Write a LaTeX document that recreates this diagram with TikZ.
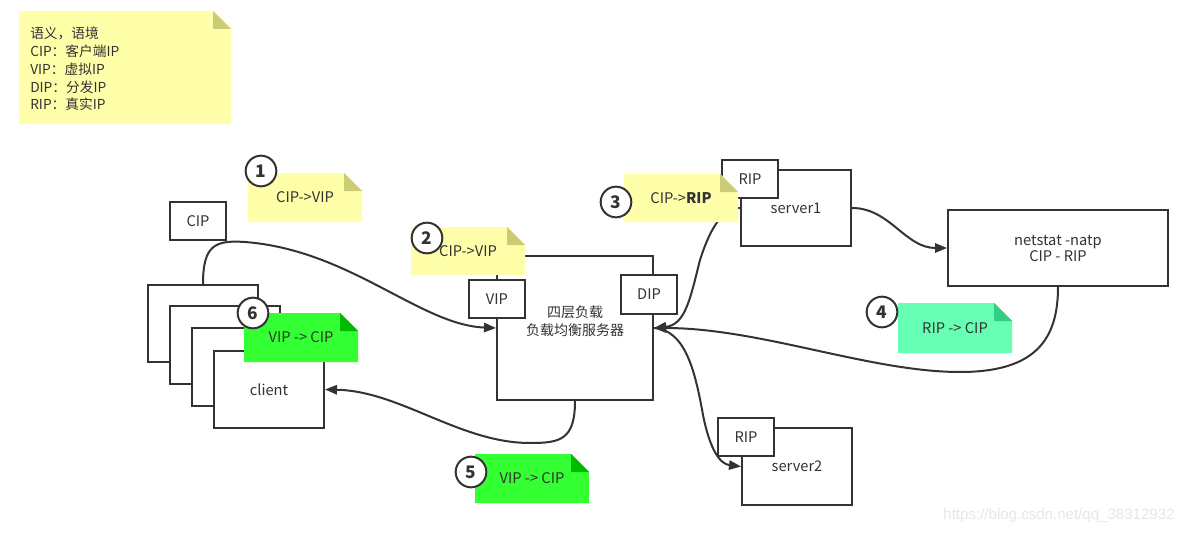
\documentclass[tikz,border=0pt]{standalone}
\usepackage{fontspec}
\setmainfont{Noto Sans CJK SC}
\newfontfamily\wmfont{Liberation Sans}
\usetikzlibrary{arrows.meta,calc}
\definecolor{ink}{HTML}{333333}
\definecolor{noteyellow}{HTML}{FFFFAA}
\definecolor{foldyellow}{HTML}{CCCC77}
\definecolor{notegreen}{HTML}{33FF33}
\definecolor{foldgreen}{HTML}{00BB00}
\definecolor{notemint}{HTML}{66FFB3}
\definecolor{foldmint}{HTML}{33CC80}
\definecolor{wmgray}{HTML}{E6E6E6}
\newcommand{\stickynote}[8]{%
  \fill[#6] (#2,#3) -- ({#4-18},#3) -- (#4,{#3+18}) -- (#4,#5) -- (#2,#5) -- cycle;
  \fill[#7] ({#4-18},#3) -- ({#4-18},{#3+18}) -- (#4,{#3+18}) -- cycle;
  \node[notetext] (#1) at ({(#2+#4)/2},{(#3+#5)/2}) {#8};
}
% name, x1, y1, x2, y2, [options], text
\newcommand{\boxnode}[7][]{%
  \node[box, minimum width={(#4-#2)*0.75pt}, minimum height={(#5-#3)*0.75pt}, #1]
    (#6) at ({(#2+#4)/2},{(#3+#5)/2}) {#7};
}
\begin{document}
\begin{tikzpicture}[x=0.75pt,y=-0.75pt,
  box/.style={draw=ink, line width=1.5pt, fill=white, inner sep=0pt, text=ink,
    font=\fontsize{11}{12}\selectfont},
  notetext/.style={text=ink, inner sep=0pt, font=\fontsize{11}{13.5}\selectfont},
  conn/.style={draw=ink, line width=1.5pt, -{Triangle[length=9pt,width=7pt]}},
  numcircle/.style={circle, draw=ink, line width=1.5pt, fill=white, minimum size=23pt,
    inner sep=0pt, text=ink, font=\bfseries\fontsize{13}{13}\selectfont}]
\useasboundingbox (0,0) rectangle (1190,535);

% legend
\fill[noteyellow] (19,11) -- (213,11) -- (231,29) -- (231,124) -- (19,124) -- cycle;
\fill[foldyellow] (213,11) -- (213,29) -- (231,29) -- cycle;
\node[notetext, anchor=north west, align=left, font=\fontsize{10.3}{13.3}\selectfont] (legend) at (30,27)
  {语义，语境\\CIP：客户端IP\\VIP：虚拟IP\\DIP：分发IP\\RIP：真实IP};

% client stack
\boxnode{148}{285}{258}{362}{stack1}{}
\boxnode{170}{306}{280}{384}{stack2}{}
\boxnode{192}{328}{302}{406}{stack3}{}
\boxnode{214}{351}{324}{428}{client}{client}
\boxnode{170}{202}{226}{240}{cip}{CIP}

% load balancer
\boxnode[label={[anchor=north, yshift=-38pt, align=center, text=ink, inner sep=0pt,
    font=\fontsize{10.5}{13.5}\selectfont]north:四层负载\\负载均衡服务器}]{497}{256}{653}{400}{main}{}
\boxnode{469}{280}{525}{318}{vip}{VIP}
\boxnode{621}{275}{677}{314}{dip}{DIP}

% servers
\boxnode{741}{170}{851}{246}{server1}{server1}
\boxnode{722}{160}{778}{198}{rip1}{RIP}
\boxnode{742}{428}{852}{505}{server2}{server2}
\boxnode{718}{418}{774}{456}{rip2}{RIP}
\boxnode[align=center, font=\fontsize{11}{12}\selectfont]{948}{210}{1168}{286}{netstat}{netstat -natp\\CIP - RIP}

% connectors
\draw[conn] (stack1.north) .. controls (203,245) and (215,240) .. (245,242)
  .. controls (350,250) and (420,325) .. (main.west);
\draw[conn] (server1.west) .. controls (720,208) and (708,235) .. (700,260)
  .. controls (690,300) and (685,325) .. (main.east);
\draw[conn] (main.east) .. controls (685,330) and (695,370) .. (703,415)
  .. controls (710,450) and (720,464) .. (server2.west);
\draw[conn] (server1.east) .. controls (890,208) and (905,248) .. (netstat.west);
\draw[conn] (netstat.south) .. controls (1058,340) and (1035,372) .. (960,372)
  .. controls (870,372) and (760,328) .. (main.east);
\draw[conn] (main.south) .. controls (575,440) and (560,443) .. (530,443)
  .. controls (460,443) and (400,391) .. (client.east);

% notes
\stickynote{n1}{248}{173}{362}{222}{noteyellow}{foldyellow}{CIP->VIP}
\stickynote{n2}{411}{227}{525}{275}{noteyellow}{foldyellow}{CIP->VIP}
\stickynote{n3}{624}{174}{738}{222}{noteyellow}{foldyellow}{CIP->\textbf{RIP}}
\stickynote{n4}{898}{303}{1012}{353}{notemint}{foldmint}{RIP -> CIP}
\stickynote{n5}{475}{454}{589}{503}{notegreen}{foldgreen}{VIP -> CIP}
\stickynote{n6}{244}{313}{358}{362}{notegreen}{foldgreen}{VIP -> CIP}

% step numbers
\node[numcircle] (c1) at (261,171) {1};
\node[numcircle] (c2) at (427,238) {2};
\node[numcircle] (c3) at (616,202) {3};
\node[numcircle] (c4) at (882,312) {4};
\node[numcircle] (c5) at (471,472) {5};
\node[numcircle] (c6) at (253,313) {6};

% watermark
\node[text=wmgray, inner sep=0pt, font=\wmfont\fontsize{11.3}{12}\selectfont] (wm) at (1059,516)
  {https://blog.csdn.net/qq\_38312932};
\end{tikzpicture}
\end{document}
